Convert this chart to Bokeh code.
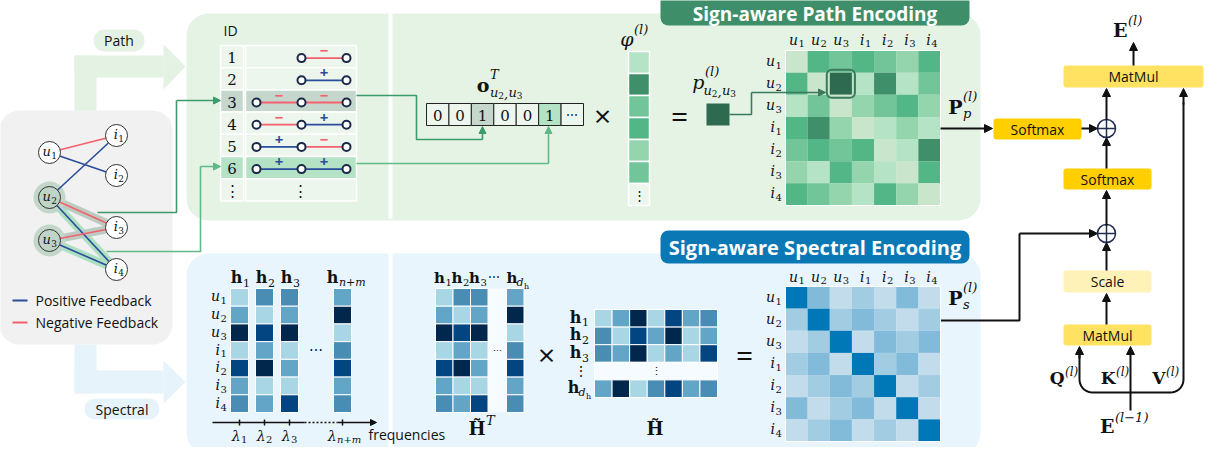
import numpy as np
from bokeh.plotting import figure
from bokeh.models import Range1d, Arrow, NormalHead
from bokeh.core.properties import value
from bokeh.embed import file_html
from bokeh.resources import INLINE

# ---------------- data ----------------
entities = [("u", "1"), ("u", "2"), ("u", "3"), ("i", "1"), ("i", "2"), ("i", "3"), ("i", "4")]
graph_edges = [("u1", "i1", "neg"), ("u1", "i2", "pos"), ("u2", "i1", "pos"), ("u2", "i3", "neg"),
               ("u2", "i4", "pos"), ("u3", "i3", "neg"), ("u3", "i4", "pos")]
legend_labels = ["Positive Feedback", "Negative Feedback"]
path_ids = ["1", "2", "3", "4", "5", "6", "⋮"]
path_signs = [["-"], ["+"], ["-", "-"], ["-", "+"], ["+", "-"], ["+", "+"]]
onehot = ["0", "0", "1", "0", "0", "1", "⋯"]
phi_levels = [1, 5, 3, 4, 2, 3]
pp_levels = [
    [0, 4, 3, 4, 3, 2, 4],
    [4, 0, 6, 1, 5, 1, 3],
    [1, 3, 0, 2, 3, 4, 2],
    [4, 5, 2, 0, 1, 2, 1],
    [3, 4, 3, 4, 0, 1, 5],
    [2, 1, 4, 2, 1, 0, 4],
    [4, 3, 2, 1, 4, 2, 0],
]
h_names = ["1", "2", "3", "n+m"]
h_levels = [
    [0, 1, 4, 0, 3, 1, 2],
    [2, 0, 3, 1, 4, 0, 1],
    [2, 1, 4, 0, 1, 0, 3],
    [1, 4, 0, 2, 3, 1, 2],
]
ps_levels = [
    [3, 2, 0, 1, 0, 2, 0],
    [1, 3, 1, 2, 1, 0, 1],
    [0, 1, 3, 0, 2, 1, 2],
    [1, 2, 0, 3, 1, 2, 0],
    [0, 1, 2, 1, 3, 0, 1],
    [2, 0, 1, 2, 0, 3, 0],
    [0, 1, 2, 0, 1, 0, 3],
]

GREENS = ["#c9e5cc", "#b4e3c5", "#94d5ae", "#72c598", "#52b686", "#3f8f6b", "#2e6a50"]
BLUES_H = ["#a9d6e5", "#62a5c7", "#4a8db4", "#024581", "#01284c"]
BLUES_S = ["#c2dcec", "#a2cce2", "#82bada", "#0077b6"]
RED, BLUE = "#f4606c", "#2a4d9b"
SERIF = "DejaVu Serif"
SANS = "Open Sans"

# ---------------- figure ----------------
W, H = 1206, 447
p = figure(width=W, height=H, x_range=Range1d(8, 8 + W), y_range=Range1d(8 + H, 8),
           output_backend="svg", toolbar_location=None, min_border=0,
           x_axis_location=None, y_axis_location=None)
p.grid.visible = False
p.outline_line_color = None
p.background_fill_color = "white"
p.border_fill_color = "white"


def T(x, y, s, size=14, font=SANS, style="normal", color="#111111", align="center", baseline="middle"):
    p.text(x=[x], y=[y], text=[s], text_font=value(font), text_font_size=f"{size}px",
           text_font_style=style, text_color=color, text_align=align, text_baseline=baseline)


def M(ax, y, base, sub=None, sup=None, size=15, bstyle="italic", substyle="normal",
      dsub=None, dsup=None, ssize=None, color="#111111"):
    ssize = ssize or round(size * 0.68)
    T(ax, y, base, size, SERIF, bstyle, color, align="right")
    if sub is not None:
        T(ax + 0.5, y + (dsub if dsub is not None else size * 0.32), sub, ssize, SERIF, substyle, color, align="left")
    if sup is not None:
        T(ax + 0.5, y - (dsup if dsup is not None else size * 0.45), sup, ssize, SERIF, "italic", color, align="left")


def pair_sub(x, y, a, b, size=13):
    # writes  a_1 , b_1  as a subscript group, e.g. u2,u3
    small = round(size * 0.7)
    for txt, sz, st, dy, adv in [(a[0], size, "italic", 0, 0.64), (a[1], small, "normal", 3, 0.64),
                                 (",", size, "italic", 0, 0.34), (b[0], size, "italic", 0, 0.64),
                                 (b[1], small, "normal", 3, 0.64)]:
        T(x, y + dy, txt, sz, SERIF, st, align="left")
        x += adv * sz


def ent(cx, cy, e, size=14):
    M(cx + size * 0.1, cy, e[0], e[1], size=size, bstyle="italic", substyle="normal")


def rrect(l, r, t, b, fill, radius=0, line=None, lw=1):
    p.quad(left=[l], right=[r], top=[t], bottom=[b], fill_color=fill, line_color=line,
           line_width=lw, border_radius=radius)


def cells(x0, y0, cw, ch, colors, line="white", lw=1):
    L, R, Tt, B, C = [], [], [], [], []
    for r, row in enumerate(colors):
        for c, col in enumerate(row):
            L.append(x0 + c * cw); R.append(x0 + (c + 1) * cw)
            Tt.append(y0 + r * ch); B.append(y0 + (r + 1) * ch); C.append(col)
    p.quad(left=L, right=R, top=Tt, bottom=B, fill_color=C, line_color=line, line_width=lw)


def arrow(pts, color="#111111", lw=1.5, head=7):
    xs = [q[0] for q in pts]; ys = [q[1] for q in pts]
    if len(pts) > 2:
        p.line(xs[:-1], ys[:-1], line_color=color, line_width=lw)
    p.add_layout(Arrow(end=NormalHead(size=head, fill_color=color, line_color=color, line_width=1),
                       x_start=xs[-2], y_start=ys[-2], x_end=xs[-1], y_end=ys[-1],
                       line_color=color, line_width=lw))


# ---------------- background shapes ----------------
rrect(7, 180, 118, 352, "#f1f1f1", radius=20)
PG = "#e3f2e3"
rrect(82, 104, 63, 118, PG)
rrect(82, 171, 63, 85, PG)
p.patch([171, 193, 171], [52, 74, 97], fill_color=PG, line_color=None)
rrect(101, 152, 37, 59, PG, radius=11)
T(126.5, 48, "Path", 14)
SB = "#e6f3fa"
rrect(82, 104, 352, 401, SB)
rrect(82, 171, 378, 401, SB)
p.patch([171, 193, 171], [368, 389.5, 411], fill_color=SB, line_color=None)
rrect(92, 167, 406, 427, SB, radius=11)
T(129.5, 416.5, "Spectral", 14)

rrect(194, 988, 21, 228, "#e5f3e5", radius=22)
rrect(396, 400, 21, 226, "white")
rrect(194, 988, 261, 462, "#e8f5fc", radius=22)
rrect(396, 400, 261, 462, "white")

rrect(668, 977, 1, 33, "#3e8f69", radius=8)
T(822.5, 21, "Sign-aware Path Encoding", 19, SANS, "bold", "white")
rrect(668, 977, 238, 271, "#0a78b5", radius=8)
T(822.5, 254.5, "Sign-aware Spectral Encoding", 20, SANS, "bold", "white")

# ---------------- bipartite graph ----------------
pos = {"u1": (57, 160), "u2": (57, 205), "u3": (57, 248),
       "i1": (124, 143), "i2": (124, 183), "i3": (124, 235), "i4": (124, 277)}
p.line([57, 124, 57], [205, 277, 248], line_color="#addfc1", line_width=8, line_join="round", line_cap="round")
p.line([57, 124, 57], [205, 235, 248], line_color="#bccbc1", line_width=8, line_join="round", line_cap="round")
p.scatter([57, 57], [205, 248], size=32, fill_color="#c3d6ca", line_color=None)
for a, b, s in graph_edges:
    p.line([pos[a][0], pos[b][0]], [pos[a][1], pos[b][1]], line_color=RED if s == "neg" else BLUE, line_width=1.6)
for e in entities:
    name = e[0] + e[1]
    x, y = pos[name]
    fill = "#bfd3c6" if name in ("u2", "u3") else "white"
    p.scatter([x], [y], size=22, fill_color=fill, line_color="#333333", line_width=1)
    ent(x, y - 1, e, 13)

p.line([20, 35], [308, 308], line_color=BLUE, line_width=2)
T(43, 308, legend_labels[0], 14, align="left")
p.line([20, 35], [330, 330], line_color=RED, line_width=2)
T(43, 330, legend_labels[1], 14, align="left")

# ---------------- path table ----------------
T(231, 38, "ID", 14, align="left")
tab_top, row_h = 53, 22.2
row_fill = ["#ecf6ec"] * 7
row_fill[2] = "#c5d6cd"
row_fill[5] = "#b3e2c4"
node_x = [264, 309, 354]
for k in range(7):
    t = tab_top + k * row_h
    b = t + row_h
    cy = (t + b) / 2
    rrect(228, 251, t, b, row_fill[k], line="white", lw=1.5)
    rrect(253, 364, t, b, row_fill[k], line="white", lw=1.5)
    T(239.5, cy + 1, path_ids[k], 15, SERIF)
    if k < len(path_signs):
        signs = path_signs[k]
        xs = node_x[3 - (len(signs) + 1):]
        for j, sg in enumerate(signs):
            col = RED if sg == "-" else BLUE
            p.line([xs[j], xs[j + 1]], [cy + 1.5, cy + 1.5], line_color=col, line_width=1.8)
            T((xs[j] + xs[j + 1]) / 2, cy - 5.5, "−" if sg == "-" else "+", 15, SANS, "bold", col)
        p.scatter(xs, [cy + 1.5] * len(xs), size=8, fill_color="white", line_color="#1c2a4a", line_width=2)
    else:
        T(308, cy + 1, "⋮", 15, SERIF)

arrow([(105, 220), (184, 220), (184, 108), (228, 108)], "#3f9a6b", 1.6, 7)
arrow([(114, 259), (208, 259), (208, 174), (228, 174)], "#5fba88", 1.6, 7)
arrow([(364, 103), (424, 103), (424, 147), (490, 147), (490, 134)], "#3f9a6b", 1.6, 7)
arrow([(364, 171), (556, 171), (556, 134)], "#5fba88", 1.6, 7)

# one-hot vector
ox0, ow = 434, 157 / 7
ofill = ["#ecf6ec"] * 7
ofill[2] = "#c5d6cd"
ofill[5] = "#b3e2c4"
cells(ox0, 111, ow, 22, [ofill], line="#222222", lw=1)
for k, v in enumerate(onehot):
    T(ox0 + (k + 0.5) * ow, 122.5, v, 15 if v != "⋯" else 12, SERIF)
M(497, 92, "o", None, "T", size=19, bstyle="bold", dsup=10, ssize=13)
pair_sub(497.5, 100, entities[1], entities[2], 13)

T(610, 123, "×", 30, SANS)
M(641, 46, "φ", None, "(l)", size=19, dsup=9, ssize=13)
phi_cols = [[GREENS[v]] for v in phi_levels] + [["#ecf6ec"]]
cells(636, 59, 21, 22, phi_cols, line="white", lw=1.5)
T(646.5, 203, "⋮", 13, SERIF)

T(687, 123, "=", 30, SANS)
M(712, 89, "p", None, "(l)", size=19, dsup=10, ssize=13)
pair_sub(711, 98, entities[1], entities[2], 13)
rrect(714, 737, 111, 133, GREENS[6])
arrow([(737, 122), (759, 122), (759, 100), (833, 100)], "#3b7a5c", 1.6, 7)

# path encoding matrix
mx0, my0, mc = 793, 58, 155 / 7
cells(mx0, my0, mc, mc, [[GREENS[v] for v in row] for row in pp_levels], line=None)
rrect(mx0, mx0 + 7 * mc, my0, my0 + 7 * mc, None, line="white", lw=1)
rrect(mx0 + 2 * mc - 3, mx0 + 3 * mc + 3, my0 + mc - 3, my0 + 2 * mc + 3, None, radius=5, line="#3b7a5c", lw=2)
for k, e in enumerate(entities):
    ent(mx0 + (k + 0.5) * mc, 47, e, 14)
    ent(781, my0 + (k + 0.5) * mc - 1, e, 14)
M(970, 114, "P", "p", "(l)", size=19, bstyle="bold", substyle="italic", dsub=7, dsup=10, ssize=13)

# ---------------- attention block ----------------
arrow([(948, 136), (1000, 136)], "#111111", 2, 8)
rrect(1001, 1089, 126, 147, "#ffcf00", radius=3)
T(1045, 136.5, "Softmax", 14)
arrow([(1089, 136), (1105, 136)], "#111111", 2, 8)
arrow([(1114, 127), (1114, 96)], "#111111", 2, 8)
rrect(1071, 1211, 73, 95, "#ffe262", radius=3)
T(1141, 84, "MatMul", 14)
arrow([(1141, 73), (1141, 50)], "#111111", 2, 8)
M(1135, 37, "E", None, "(l)", size=19, bstyle="bold", dsup=9, ssize=13)
rrect(1071, 1159, 176, 197, "#ffcf00", radius=3)
T(1115, 186.5, "Softmax", 14)
arrow([(1114, 176), (1114, 145)], "#111111", 2, 8)
arrow([(1114, 233), (1114, 198)], "#111111", 2, 8)

arrow([(947, 328), (1027, 328), (1027, 241), (1105, 241)], "#111111", 2, 8)
rrect(1071, 1159, 278, 300, "#fff2b8", radius=3)
T(1115, 289, "Scale", 14)
arrow([(1114, 278), (1114, 250)], "#111111", 2, 8)
rrect(1071, 1159, 332, 353, "#ffe262", radius=3)
T(1115, 342.5, "MatMul", 14)
arrow([(1114, 332), (1114, 301)], "#111111", 2, 8)

a1 = np.linspace(np.pi, np.pi / 2, 10)
a2 = np.linspace(np.pi / 2, 0, 10)
lx = [1087.0] + list(1100 + 13 * np.cos(a1)) + list(1178 + 13 * np.cos(a2)) + [1191.0]
ly = [362.0] + list(387 + 13 * np.sin(a1)) + list(387 + 13 * np.sin(a2)) + [110.0]
p.line(lx, ly, line_color="#111111", line_width=2)
arrow([(1087, 366), (1087, 354)], "#111111", 2, 8)
arrow([(1191, 112), (1191, 96)], "#111111", 2, 8)
arrow([(1138, 418), (1138, 354)], "#111111", 2, 8)
M(1072, 385, "Q", None, "(l)", size=17, bstyle="bold", dsup=6, ssize=12)
M(1123, 385, "K", None, "(l)", size=17, bstyle="bold", dsup=6, ssize=12)
M(1173, 385, "V", None, "(l)", size=17, bstyle="bold", dsup=6, ssize=12)
M(1122, 433, "E", None, "(l−1)", size=19, bstyle="bold", dsup=8, ssize=13)

for cx, cy in [(1114, 136), (1114, 241)]:
    p.scatter([cx], [cy], size=18, marker="circle_cross", fill_color="white", line_color="#1f2d50", line_width=1.5)

# ---------------- spectral: eigenvectors ----------------
hx = [238, 263, 288, 341]
hy0, hh = 296, 124 / 7
for j, lv in enumerate(h_levels):
    cells(hx[j], hy0, 18, hh, [[BLUES_H[v]] for v in lv], line="white", lw=1)
    cx = hx[j] + 9
    M(cx + (3 if j < 3 else -4), 285, "h", h_names[j], size=16, bstyle="bold",
      substyle="normal" if j < 3 else "italic", dsub=5, ssize=11)
for k, e in enumerate(entities):
    ent(226, hy0 + (k + 0.5) * hh - 1, e, 14)
T(323, 357, "⋯", 14, SERIF)
p.line([220, 312], [430, 430], line_color="#111111", line_width=1.5)
p.line([312, 345], [430, 430], line_color="#111111", line_width=1.5, line_dash="2 2")
arrow([(345, 430), (384, 430)], "#111111", 1.5, 6)
for j in range(4):
    cx = hx[j] + 9
    p.line([cx, cx], [427, 433], line_color="#111111", line_width=1.5)
    M(cx + (1 if j < 3 else -6), 443, "λ", h_names[j], size=14, bstyle="italic",
      substyle="normal" if j < 3 else "italic", dsub=4, ssize=10)
T(376, 442, "frequencies", 14, align="left")

# H^T
htx = [443, 460.5, 478, 514]
rrect(496, 514, hy0, hy0 + 7 * hh, "#f5fbfe")
T(505, 358, "⋯", 9, SERIF)
for j, lv in enumerate(h_levels):
    cells(htx[j], hy0, 17.5, hh, [[BLUES_H[v]] for v in lv], line="white", lw=1)
for j in range(3):
    M(htx[j] + 9.5, 285, "h", h_names[j], size=15, bstyle="bold", dsub=5, ssize=10)
T(501, 284, "⋯", 12, SERIF)
M(525, 285, "h", None, size=15, bstyle="bold")
M(531, 290, "d", "h", size=11, dsub=4, ssize=8)
M(493, 436, "H̃", None, "T", size=18, bstyle="bold", dsup=8, ssize=13)

T(554, 362, "×", 30, SANS)
hmx0, hmc, hmy0, hmr = 602, 123 / 7, 317, 17.6
rows = [[BLUES_H[v] for v in h_levels[0]], [BLUES_H[v] for v in h_levels[1]],
        [BLUES_H[v] for v in h_levels[2]], None, [BLUES_H[v] for v in h_levels[3]]]
for r, row in enumerate(rows):
    if row is None:
        rrect(hmx0, hmx0 + 7 * hmc, hmy0 + r * hmr, hmy0 + (r + 1) * hmr, "#f5fbfe", line="white", lw=1)
    else:
        cells(hmx0, hmy0 + r * hmr, hmc, hmr, [row], line="white", lw=1)
T(663.5, 379, "⋮", 11, SERIF)
for r in range(3):
    M(589, hmy0 + (r + 0.5) * hmr - 1, "h", h_names[r], size=16, bstyle="bold", dsub=5, ssize=11)
T(588, hmy0 + 3.5 * hmr, "⋮", 14, SERIF)
M(587, hmy0 + 4.5 * hmr - 1, "h", None, size=16, bstyle="bold")
M(593, hmy0 + 4.5 * hmr + 4, "d", "h", size=11, dsub=4, ssize=8)
M(671, 436, "H̃", None, size=18, bstyle="bold")

T(752, 362, "=", 30, SANS)
sx0, sy0, sc = 793, 294, 155 / 7
cells(sx0, sy0, sc, sc, [[BLUES_S[v] for v in row] for row in ps_levels], line=None)
rrect(sx0, sx0 + 7 * sc, sy0, sy0 + 7 * sc, None, line="white", lw=1)
for k, e in enumerate(entities):
    ent(sx0 + (k + 0.5) * sc, 284, e, 14)
    ent(781, sy0 + (k + 0.5) * sc - 1, e, 14)
M(970, 305, "P", "s", "(l)", size=19, bstyle="bold", substyle="italic", dsub=7, dsup=10, ssize=13)

open("out.html", "w").write(file_html(p, INLINE))
